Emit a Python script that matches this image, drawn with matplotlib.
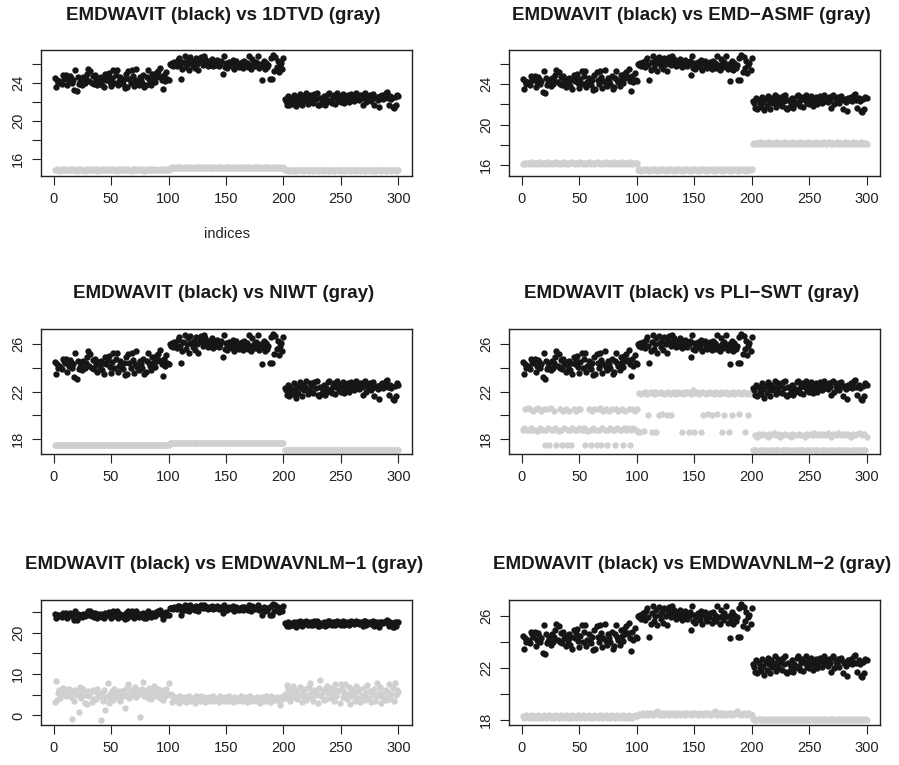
import numpy as np
import matplotlib
matplotlib.use('Agg')
import matplotlib.pyplot as plt

plt.rcParams['font.family'] = ['Liberation Sans', 'DejaVu Sans']

indices = np.arange(1, 301)

# EMDWAVIT (black) - same series in every panel
emdwavit = [
    24.5, 23.5, 24.3, 24.0, 24.2, 24.1, 23.9, 24.8, 24.6, 24.4,
    24.8, 23.7, 24.2, 24.7, 24.5, 24.0, 24.3, 23.2, 25.3, 23.1,
    24.6, 23.9, 24.1, 24.4, 23.8, 24.6, 24.0, 24.4, 24.9, 25.4,
    24.2, 25.2, 24.0, 24.7, 23.9, 24.8, 24.3, 23.7, 24.5, 24.1,
    24.6, 23.8, 24.4, 23.5, 24.9, 24.3, 24.7, 25.0, 24.1, 23.6,
    24.5, 25.3, 24.0, 24.8, 25.3, 23.7, 24.2, 24.6, 24.1, 23.9,
    24.4, 23.4, 24.9, 23.5, 25.2, 24.4, 24.0, 25.3, 24.7, 23.6,
    24.3, 25.4, 24.1, 23.8, 24.6, 24.3, 24.0, 24.8, 23.5, 23.7,
    24.6, 25.3, 24.4, 24.2, 23.8, 24.9, 24.5, 24.1, 25.0, 24.6,
    25.2, 24.7, 25.5, 24.3, 23.3, 24.8, 24.2, 25.1, 24.4, 24.3,
    26.0, 25.9, 26.1, 25.8, 26.2, 26.0, 25.7, 26.4, 26.6, 25.9,
    24.4, 25.4, 26.2, 26.8, 25.6, 26.0, 26.5, 25.3, 26.7, 26.1,
    25.8, 26.3, 25.5, 26.6, 26.0, 25.3, 26.4, 26.7, 26.2, 25.9,
    26.8, 26.5, 26.1, 25.8, 26.3, 25.9, 26.0, 26.5, 25.7, 26.2,
    25.9, 26.4, 26.1, 25.8, 26.0, 26.3, 24.9, 26.8, 25.6, 26.1,
    25.5, 25.9, 26.2, 26.0, 25.7, 26.4, 25.4, 26.1, 26.3, 25.8,
    25.6, 26.0, 25.9, 26.2, 25.5, 26.3, 25.8, 26.1, 25.6, 26.8,
    25.9, 25.4, 26.5, 26.0, 25.7, 26.2, 25.9, 26.8, 25.5, 26.0,
    24.3, 25.8, 26.3, 25.4, 26.1, 25.6, 25.9, 24.4, 26.6, 24.4,
    26.9, 25.2, 26.7, 25.6, 26.3, 25.1, 25.9, 26.1, 25.4, 26.6,
    22.3, 22.1, 21.7, 22.6, 21.6, 22.4, 22.0, 21.8, 22.7, 22.2,
    21.5, 22.5, 21.9, 22.8, 22.3, 21.6, 22.6, 22.1, 22.4, 22.9,
    21.8, 22.2, 22.7, 22.0, 22.5, 21.9, 22.8, 22.3, 22.9, 21.7,
    21.6, 22.4, 21.8, 22.1, 22.6, 21.7, 22.3, 22.0, 22.8, 22.9,
    22.2, 21.9, 22.5, 22.7, 21.8, 22.4, 22.9, 22.1, 22.6, 22.0,
    22.3, 22.8, 21.9, 22.5, 22.2, 22.7, 22.0, 22.4, 22.8, 22.6,
    22.1, 22.5, 22.9, 22.3, 22.6, 22.2, 22.7, 22.4, 21.7, 22.8,
    22.9, 22.0, 22.5, 22.3, 22.7, 22.1, 22.6, 22.8, 21.6, 22.4,
    22.5, 22.2, 21.4, 22.6, 22.4, 22.7, 22.3, 22.5, 22.9, 23.0,
    22.4, 21.7, 22.6, 22.3, 21.4, 21.3, 22.5, 21.6, 22.7, 22.6,
]

gray_1dtvd = [
    14.8, 14.8, 14.9, 14.8, 14.7, 14.8, 14.9, 14.8, 14.8, 14.9,
    14.8, 14.8, 14.8, 14.9, 14.8, 14.8, 14.9, 14.8, 14.8, 14.7,
    14.9, 14.8, 14.8, 14.9, 14.8, 14.8, 14.7, 14.8, 14.9, 14.8,
    14.8, 14.9, 14.8, 14.8, 14.9, 14.8, 14.9, 14.7, 14.8, 14.8,
    14.8, 14.9, 14.8, 14.8, 14.9, 14.8, 14.8, 14.9, 14.8, 14.8,
    14.9, 14.8, 14.8, 14.8, 14.7, 14.9, 14.8, 14.8, 14.9, 14.8,
    14.8, 14.9, 14.8, 14.9, 14.8, 14.8, 14.7, 14.8, 14.9, 14.8,
    14.9, 14.8, 14.8, 14.9, 14.8, 14.8, 14.8, 14.9, 14.7, 14.8,
    14.8, 14.9, 14.8, 14.8, 14.9, 14.8, 14.9, 14.8, 14.8, 14.8,
    14.8, 14.8, 14.9, 14.8, 14.8, 14.9, 14.8, 14.9, 14.8, 14.8,
    15.0, 15.0, 15.1, 15.0, 15.0, 15.1, 15.0, 15.1, 15.0, 15.1,
    15.0, 15.0, 15.0, 15.1, 15.0, 15.0, 15.1, 15.0, 15.1, 15.0,
    15.0, 15.0, 15.1, 15.0, 15.0, 15.1, 15.0, 15.1, 15.0, 15.0,
    15.0, 15.1, 15.0, 15.1, 15.0, 15.1, 15.0, 15.0, 15.0, 15.1,
    15.0, 15.0, 15.1, 15.0, 15.1, 15.0, 15.0, 15.0, 15.1, 15.0,
    15.1, 15.0, 15.1, 15.0, 15.0, 15.0, 15.1, 15.0, 15.0, 15.1,
    15.0, 15.1, 15.0, 15.0, 15.0, 15.1, 15.0, 15.1, 15.0, 15.1,
    15.0, 15.0, 15.0, 15.1, 15.0, 15.0, 15.1, 15.0, 15.1, 15.0,
    15.0, 15.0, 15.1, 15.0, 15.1, 15.0, 15.1, 15.0, 15.0, 15.0,
    15.1, 15.0, 15.0, 15.1, 15.0, 15.1, 15.0, 15.0, 15.0, 15.1,
    14.8, 14.8, 14.8, 14.7, 14.8, 14.8, 14.8, 14.7, 14.8, 14.8,
    14.7, 14.8, 14.8, 14.8, 14.8, 14.8, 14.7, 14.8, 14.8, 14.8,
    14.8, 14.7, 14.8, 14.8, 14.8, 14.7, 14.8, 14.8, 14.8, 14.8,
    14.7, 14.8, 14.8, 14.8, 14.7, 14.8, 14.8, 14.8, 14.8, 14.7,
    14.8, 14.8, 14.8, 14.7, 14.8, 14.8, 14.8, 14.8, 14.7, 14.8,
    14.8, 14.8, 14.7, 14.8, 14.8, 14.8, 14.8, 14.7, 14.8, 14.8,
    14.8, 14.7, 14.8, 14.8, 14.8, 14.8, 14.7, 14.8, 14.8, 14.8,
    14.7, 14.8, 14.8, 14.8, 14.8, 14.7, 14.8, 14.8, 14.8, 14.7,
    14.8, 14.8, 14.8, 14.8, 14.7, 14.8, 14.8, 14.8, 14.7, 14.8,
    14.8, 14.8, 14.8, 14.7, 14.8, 14.8, 14.8, 14.7, 14.8, 14.8,
]

gray_asmf = [
    16.1, 16.2, 16.1, 16.2, 16.2, 16.1, 16.2, 16.3, 16.2, 16.1,
    16.2, 16.2, 16.1, 16.2, 16.3, 16.2, 16.1, 16.2, 16.2, 16.1,
    16.2, 16.3, 16.2, 16.1, 16.2, 16.2, 16.1, 16.2, 16.2, 16.3,
    16.1, 16.2, 16.2, 16.1, 16.2, 16.3, 16.2, 16.1, 16.2, 16.2,
    16.1, 16.2, 16.2, 16.3, 16.2, 16.1, 16.2, 16.2, 16.1, 16.2,
    16.3, 16.2, 16.1, 16.2, 16.2, 16.1, 16.2, 16.3, 16.2, 16.1,
    16.2, 16.2, 16.1, 16.2, 16.3, 16.2, 16.2, 16.1, 16.2, 16.2,
    16.1, 16.2, 16.3, 16.2, 16.1, 16.2, 16.2, 16.1, 16.2, 16.3,
    16.2, 16.1, 16.2, 16.2, 16.1, 16.2, 16.3, 16.2, 16.1, 16.2,
    16.2, 16.1, 16.2, 16.3, 16.2, 16.1, 16.2, 16.2, 16.1, 16.2,
    15.5, 15.5, 15.6, 15.4, 15.5, 15.6, 15.5, 15.5, 15.6, 15.5,
    15.4, 15.5, 15.6, 15.5, 15.5, 15.6, 15.5, 15.4, 15.5, 15.6,
    15.5, 15.5, 15.6, 15.5, 15.4, 15.5, 15.6, 15.5, 15.5, 15.6,
    15.5, 15.4, 15.5, 15.6, 15.5, 15.5, 15.6, 15.5, 15.4, 15.5,
    15.6, 15.5, 15.5, 15.6, 15.5, 15.4, 15.5, 15.6, 15.5, 15.5,
    15.6, 15.5, 15.4, 15.5, 15.6, 15.5, 15.5, 15.6, 15.5, 15.4,
    15.5, 15.6, 15.5, 15.5, 15.6, 15.5, 15.4, 15.5, 15.6, 15.5,
    15.5, 15.6, 15.5, 15.4, 15.5, 15.6, 15.5, 15.5, 15.6, 15.5,
    15.4, 15.5, 15.6, 15.5, 15.5, 15.6, 15.5, 15.4, 15.5, 15.6,
    15.5, 15.5, 15.6, 15.5, 15.4, 15.5, 15.6, 15.5, 15.5, 15.6,
    18.1, 18.2, 18.1, 18.2, 18.2, 18.1, 18.3, 18.2, 18.1, 18.2,
    18.2, 18.1, 18.2, 18.3, 18.2, 18.1, 18.2, 18.2, 18.1, 18.2,
    18.3, 18.2, 18.1, 18.2, 18.2, 18.1, 18.2, 18.3, 18.2, 18.1,
    18.2, 18.2, 18.1, 18.2, 18.3, 18.2, 18.1, 18.2, 18.2, 18.1,
    18.2, 18.3, 18.2, 18.1, 18.2, 18.2, 18.1, 18.2, 18.3, 18.2,
    18.1, 18.2, 18.2, 18.1, 18.2, 18.3, 18.2, 18.1, 18.2, 18.2,
    18.1, 18.2, 18.3, 18.2, 18.1, 18.2, 18.3, 18.2, 18.1, 18.2,
    18.2, 18.1, 18.2, 18.3, 18.2, 18.1, 18.2, 18.2, 18.1, 18.2,
    18.3, 18.2, 18.1, 18.2, 18.2, 18.1, 18.2, 18.3, 18.2, 18.1,
    18.2, 18.2, 18.1, 18.2, 18.3, 18.2, 18.1, 18.2, 18.2, 18.1,
]

gray_niwt = [
    17.5, 17.5, 17.5, 17.5, 17.5, 17.5, 17.5, 17.5, 17.5, 17.5,
    17.5, 17.5, 17.5, 17.5, 17.5, 17.5, 17.5, 17.5, 17.5, 17.5,
    17.5, 17.5, 17.5, 17.5, 17.5, 17.5, 17.5, 17.5, 17.5, 17.5,
    17.5, 17.5, 17.5, 17.5, 17.5, 17.5, 17.5, 17.5, 17.5, 17.5,
    17.5, 17.5, 17.5, 17.5, 17.5, 17.5, 17.5, 17.5, 17.5, 17.5,
    17.5, 17.5, 17.5, 17.5, 17.5, 17.5, 17.5, 17.5, 17.5, 17.5,
    17.5, 17.5, 17.5, 17.5, 17.5, 17.5, 17.5, 17.5, 17.5, 17.5,
    17.5, 17.5, 17.5, 17.5, 17.5, 17.5, 17.5, 17.5, 17.5, 17.5,
    17.5, 17.5, 17.5, 17.5, 17.5, 17.5, 17.5, 17.5, 17.5, 17.5,
    17.5, 17.5, 17.5, 17.5, 17.5, 17.5, 17.5, 17.5, 17.5, 17.5,
    17.7, 17.7, 17.7, 17.7, 17.7, 17.7, 17.7, 17.7, 17.7, 17.7,
    17.7, 17.7, 17.7, 17.7, 17.7, 17.7, 17.7, 17.7, 17.7, 17.7,
    17.7, 17.7, 17.7, 17.7, 17.7, 17.7, 17.7, 17.7, 17.7, 17.7,
    17.7, 17.7, 17.7, 17.7, 17.7, 17.7, 17.7, 17.7, 17.7, 17.7,
    17.7, 17.7, 17.7, 17.7, 17.7, 17.7, 17.7, 17.7, 17.7, 17.7,
    17.7, 17.7, 17.7, 17.7, 17.7, 17.7, 17.7, 17.7, 17.7, 17.7,
    17.7, 17.7, 17.7, 17.7, 17.7, 17.7, 17.7, 17.7, 17.7, 17.7,
    17.7, 17.7, 17.7, 17.7, 17.7, 17.7, 17.7, 17.7, 17.7, 17.7,
    17.7, 17.7, 17.7, 17.7, 17.7, 17.7, 17.7, 17.7, 17.7, 17.7,
    17.7, 17.7, 17.7, 17.7, 17.7, 17.7, 17.7, 17.7, 17.7, 17.7,
    17.1, 17.1, 17.1, 17.1, 17.1, 17.1, 17.1, 17.1, 17.1, 17.1,
    17.1, 17.1, 17.1, 17.1, 17.1, 17.1, 17.1, 17.1, 17.1, 17.1,
    17.1, 17.1, 17.1, 17.1, 17.1, 17.1, 17.1, 17.1, 17.1, 17.1,
    17.1, 17.1, 17.1, 17.1, 17.1, 17.1, 17.1, 17.1, 17.1, 17.1,
    17.1, 17.1, 17.1, 17.1, 17.1, 17.1, 17.1, 17.1, 17.1, 17.1,
    17.1, 17.1, 17.1, 17.1, 17.1, 17.1, 17.1, 17.1, 17.1, 17.1,
    17.1, 17.1, 17.1, 17.1, 17.1, 17.1, 17.1, 17.1, 17.1, 17.1,
    17.1, 17.1, 17.1, 17.1, 17.1, 17.1, 17.1, 17.1, 17.1, 17.1,
    17.1, 17.1, 17.1, 17.1, 17.1, 17.1, 17.1, 17.1, 17.1, 17.1,
    17.1, 17.1, 17.1, 17.1, 17.1, 17.1, 17.1, 17.1, 17.1, 17.1,
]

gray_pliswt = [
    18.8, 18.9, 20.5, 18.8, 20.6, 18.8, 20.5, 18.9, 18.8, 20.4,
    18.8, 20.5, 18.7, 20.6, 18.8, 18.9, 20.4, 18.8, 20.5, 17.5,
    18.8, 20.5, 18.9, 17.5, 20.6, 18.8, 18.8, 20.4, 18.9, 17.5,
    18.8, 18.7, 20.5, 18.8, 17.5, 20.4, 18.9, 20.5, 17.5, 18.8,
    20.4, 18.8, 17.5, 18.9, 20.5, 18.8, 20.4, 18.8, 20.5, 18.9,
    20.5, 18.8, 18.8, 18.9, 17.5, 18.8, 18.7, 20.5, 18.8, 17.5,
    20.4, 18.9, 20.5, 18.8, 17.5, 20.5, 18.8, 20.6, 17.5, 18.9,
    20.4, 18.8, 20.5, 17.5, 18.8, 20.4, 18.9, 20.5, 18.8, 18.8,
    17.5, 20.5, 18.9, 20.4, 18.8, 18.8, 20.5, 17.5, 18.9, 20.4,
    18.8, 18.9, 20.5, 17.5, 18.8, 20.5, 18.9, 20.4, 18.8, 20.5,
    18.6, 21.9, 18.6, 21.8, 21.9, 18.7, 22.0, 21.9, 21.8, 20.0,
    21.9, 22.0, 18.6, 21.9, 21.8, 22.0, 18.6, 21.9, 20.0, 21.9,
    22.0, 20.1, 21.9, 21.8, 21.9, 20.0, 22.0, 21.9, 21.8, 20.0,
    21.9, 22.0, 21.9, 21.8, 21.9, 22.0, 21.9, 21.9, 18.6, 21.8,
    22.0, 21.9, 21.9, 22.0, 18.6, 21.9, 21.8, 22.0, 22.1, 18.6,
    21.9, 22.0, 21.9, 21.8, 21.9, 18.6, 22.0, 20.0, 21.9, 21.8,
    21.9, 20.1, 22.0, 21.9, 20.0, 21.9, 21.8, 22.0, 21.9, 20.1,
    21.9, 21.8, 22.0, 18.6, 21.9, 20.0, 21.9, 22.0, 21.8, 18.6,
    21.9, 21.9, 20.0, 22.0, 21.8, 21.9, 21.9, 22.0, 20.1, 21.9,
    21.8, 21.9, 22.0, 18.6, 21.9, 21.8, 20.0, 21.9, 21.8, 21.9,
    17.1, 17.1, 18.3, 17.1, 18.2, 18.4, 17.1, 18.3, 17.1, 18.4,
    17.1, 18.3, 17.1, 18.2, 18.4, 17.1, 18.3, 17.1, 18.5, 17.1,
    18.3, 17.1, 17.1, 18.4, 18.2, 17.1, 18.3, 17.1, 18.4, 17.1,
    17.1, 18.3, 17.1, 18.2, 18.4, 17.1, 18.3, 17.1, 18.3, 17.1,
    18.4, 17.1, 18.3, 17.1, 17.1, 18.2, 18.4, 17.1, 18.3, 17.1,
    18.4, 17.1, 18.3, 18.5, 17.1, 17.1, 18.3, 17.1, 18.4, 18.3,
    17.1, 18.4, 17.1, 18.3, 17.1, 18.5, 17.1, 18.3, 18.2, 17.1,
    18.4, 17.1, 18.3, 17.1, 18.5, 17.1, 17.1, 18.3, 18.4, 17.1,
    18.3, 17.1, 18.4, 17.1, 18.3, 18.2, 17.1, 18.4, 17.1, 18.3,
    17.1, 18.4, 17.1, 18.5, 17.1, 18.3, 17.1, 18.4, 17.1, 18.2,
]

gray_nlm1 = [
    3.2, 8.4, 3.8, 5.5, 6.1, 4.2, 5.8, 6.6, 5.1, 6.3,
    4.8, 5.9, 6.5, 5.2, 4.4, -0.8, 5.7, 3.5, 6.2, 4.9,
    5.6, 0.8, 6.8, 4.1, 5.3, 6.4, 3.1, 5.0, 2.7, 6.0,
    4.6, 5.4, 3.3, 6.1, 4.0, 5.8, 3.9, 6.3, 5.2, 4.7,
    -1.2, 5.5, 3.6, 6.2, 1.3, 4.5, 7.9, 3.0, 5.1, 4.3,
    5.9, 3.8, 6.4, 4.9, 5.6, 4.2, 6.0, 3.4, 5.3, 4.6,
    6.2, 1.8, 5.0, 6.7, 7.6, 4.1, 5.7, 4.8, 6.3, 5.5,
    6.8, 4.4, 5.9, 6.1, -0.3, 5.2, 6.5, 8.1, 4.7, 5.8,
    6.0, 4.3, 6.6, 5.1, 3.9, 6.2, 7.1, 5.4, 4.6, 5.9,
    6.4, 5.0, 4.2, 6.1, 3.7, 5.5, 4.8, 6.3, 5.2, 7.9,
    4.9, 5.3, 3.2, 4.6, 3.8, 4.1, 3.5, 4.4, 3.0, 4.8,
    3.6, 4.2, 3.9, 4.5, 3.3, 4.0, 3.7, 4.7, 3.4, 4.1,
    3.8, 4.3, 3.1, 4.6, 3.9, 4.2, 3.5, 4.8, 3.7, 4.0,
    4.4, 3.3, 4.1, 3.8, 4.5, 3.6, 4.2, 3.9, 4.7, 3.4,
    4.0, 3.7, 4.3, 3.2, 4.6, 3.9, 4.1, 3.5, 4.4, 3.8,
    4.2, 3.6, 4.8, 3.9, 4.0, 3.3, 4.5, 3.7, 4.1, 3.4,
    4.3, 3.8, 4.6, 3.5, 4.0, 3.9, 4.4, 3.2, 4.2, 3.7,
    4.7, 3.6, 4.1, 3.9, 4.3, 3.4, 4.5, 3.8, 4.0, 3.1,
    4.4, 3.7, 4.2, 3.5, 4.6, 3.9, 4.1, 3.3, 4.8, 3.6,
    4.0, 4.3, 3.8, 4.5, 3.7, 4.2, 2.5, 4.4, 3.9, 4.6,
    5.2, 4.1, 7.3, 6.5, 4.8, 3.6, 5.9, 7.0, 4.4, 5.5,
    6.2, 3.9, 4.7, 6.8, 5.1, 3.3, 5.8, 4.5, 6.4, 3.8,
    5.0, 6.9, 7.9, 4.2, 5.6, 3.5, 6.1, 4.9, 5.3, 3.0,
    6.6, 8.5, 4.6, 5.7, 3.7, 6.3, 4.0, 7.2, 5.4, 6.0,
    4.3, 6.7, 5.1, 3.4, 7.5, 4.8, 6.2, 5.9, 3.1, 7.6,
    6.5, 4.4, 5.6, 7.7, 3.9, 5.2, 6.9, 2.8, 4.7, 6.1,
    5.3, 3.6, 7.1, 4.2, 5.8, 6.4, 3.3, 5.0, 4.5, 6.7,
    3.8, 5.5, 7.4, 4.1, 6.0, 3.2, 5.7, 4.9, 6.3, 3.5,
    7.9, 4.6, 5.4, 6.8, 3.0, 5.1, 4.3, 6.2, 3.7, 5.9,
    4.8, 7.7, 4.0, 5.3, 6.6, 3.4, 7.8, 5.0, 6.1, 5.6,
]

gray_nlm2 = [
    18.3, 18.2, 18.3, 18.4, 18.3, 18.2, 18.3, 18.3, 18.4, 18.2,
    18.3, 18.3, 18.2, 18.4, 18.3, 18.3, 18.2, 18.3, 18.4, 18.3,
    18.2, 18.3, 18.3, 18.4, 18.2, 18.3, 18.3, 18.2, 18.4, 18.3,
    18.3, 18.2, 18.3, 18.4, 18.3, 18.2, 18.3, 18.3, 18.4, 18.2,
    18.3, 18.3, 18.2, 18.4, 18.3, 18.3, 18.2, 18.3, 18.4, 18.3,
    18.2, 18.3, 18.4, 18.3, 18.2, 18.3, 18.3, 18.4, 18.2, 18.3,
    18.3, 18.2, 18.4, 18.3, 18.3, 18.2, 18.3, 18.4, 18.3, 18.2,
    18.3, 18.3, 18.4, 18.2, 18.3, 18.3, 18.2, 18.4, 18.3, 18.3,
    18.2, 18.3, 18.4, 18.3, 18.2, 18.3, 18.3, 18.4, 18.2, 18.3,
    18.3, 18.2, 18.4, 18.3, 18.3, 18.2, 18.3, 18.4, 18.3, 18.3,
    18.4, 18.5, 18.4, 18.5, 18.6, 18.4, 18.5, 18.5, 18.6, 18.4,
    18.5, 18.6, 18.5, 18.4, 18.5, 18.6, 18.5, 18.7, 18.5, 18.4,
    18.5, 18.6, 18.5, 18.4, 18.6, 18.5, 18.5, 18.4, 18.6, 18.5,
    18.5, 18.6, 18.4, 18.5, 18.5, 18.6, 18.5, 18.4, 18.5, 18.6,
    18.5, 18.4, 18.5, 18.6, 18.5, 18.5, 18.4, 18.6, 18.5, 18.5,
    18.6, 18.5, 18.4, 18.5, 18.6, 18.5, 18.5, 18.4, 18.6, 18.5,
    18.5, 18.6, 18.5, 18.4, 18.5, 18.6, 18.5, 18.7, 18.5, 18.4,
    18.5, 18.6, 18.5, 18.4, 18.6, 18.5, 18.5, 18.4, 18.6, 18.5,
    18.5, 18.6, 18.4, 18.5, 18.5, 18.6, 18.7, 18.5, 18.6, 18.5,
    18.4, 18.5, 18.6, 18.5, 18.5, 18.4, 18.6, 18.5, 18.5, 18.4,
    18.1, 18.0, 18.1, 18.0, 18.0, 18.1, 18.0, 18.1, 18.0, 18.0,
    18.1, 18.0, 18.0, 18.1, 18.0, 18.1, 18.0, 18.0, 18.1, 18.0,
    18.0, 18.1, 18.0, 18.0, 18.1, 18.0, 18.1, 18.0, 18.0, 18.1,
    18.0, 18.0, 18.1, 18.0, 18.1, 18.0, 18.0, 18.1, 18.0, 18.0,
    18.1, 18.0, 18.1, 18.0, 18.0, 18.1, 18.0, 18.0, 18.1, 18.0,
    18.0, 18.1, 18.0, 18.1, 18.0, 18.0, 18.1, 18.0, 18.0, 18.1,
    18.0, 18.0, 18.1, 18.0, 18.1, 18.0, 18.0, 18.1, 18.0, 18.1,
    18.0, 18.1, 18.0, 18.0, 18.1, 18.0, 18.1, 18.0, 18.0, 18.1,
    18.0, 18.0, 18.1, 18.0, 18.0, 18.1, 18.0, 18.1, 18.0, 18.0,
    18.1, 18.0, 18.0, 18.1, 18.0, 18.0, 18.1, 18.0, 18.1, 18.0,
]

titles = [
    'EMDWAVIT (black) vs 1DTVD (gray)',
    'EMDWAVIT (black) vs EMD\u2212ASMF (gray)',
    'EMDWAVIT (black) vs NIWT (gray)',
    'EMDWAVIT (black) vs PLI\u2212SWT (gray)',
    'EMDWAVIT (black) vs EMDWAVNLM\u22121 (gray)',
    'EMDWAVIT (black) vs EMDWAVNLM\u22122 (gray)',
]
grays = [gray_1dtvd, gray_asmf, gray_niwt, gray_pliswt, gray_nlm1, gray_nlm2]
ytick_sets = [
    ([16, 18, 20, 22, 24, 26], ['16', '', '20', '', '24', '']),
    ([16, 18, 20, 22, 24, 26], ['16', '', '20', '', '24', '']),
    ([18, 20, 22, 24, 26], ['18', '', '22', '', '26']),
    ([18, 20, 22, 24, 26], ['18', '', '22', '', '26']),
    ([0, 5, 10, 15, 20, 25], ['0', '', '10', '', '20', '']),
    ([18, 20, 22, 24, 26], ['18', '', '22', '', '26']),
]

for g in grays:
    assert len(g) == 300
assert len(emdwavit) == 300

fig = plt.figure(figsize=(8.99, 7.65), dpi=100)

# axes boxes in figure fraction (left, bottom, width, height)
lefts = [0.0456, 0.5665]
bottoms = [0.7703, 0.4061, 0.0523]
w = 0.4128
h = 0.1638

for i in range(6):
    row, col = divmod(i, 2)
    ax = fig.add_axes([lefts[col], bottoms[row], w, h])
    ax.scatter(indices, grays[i], s=21, c='#d0d0d0', linewidths=0)
    ax.scatter(indices, emdwavit, s=21, c='#161616', linewidths=0)
    ax.margins(x=0.04, y=0.04)

    ax.set_xticks([0, 50, 100, 150, 200, 250, 300])
    yt, yl = ytick_sets[i]
    ax.set_yticks(yt)
    ax.set_yticklabels(yl, rotation=90, va='center')
    ax.tick_params(direction='out', length=6.5, width=0.8, labelsize=10.5,
                   colors='#222222')
    ax.tick_params(axis='y', pad=5)
    ax.tick_params(axis='x', pad=5)
    for s in ax.spines.values():
        s.set_linewidth(1.0)
        s.set_color('#222222')

    ax.set_title(titles[i], fontsize=13.5, fontweight='bold', pad=22,
                 color='#1a1a1a', x=0.492)
    if i == 0:
        ax.set_xlabel('indices', fontsize=10.5, labelpad=15, color='#222222')

fig.savefig('out.png', dpi=100)
